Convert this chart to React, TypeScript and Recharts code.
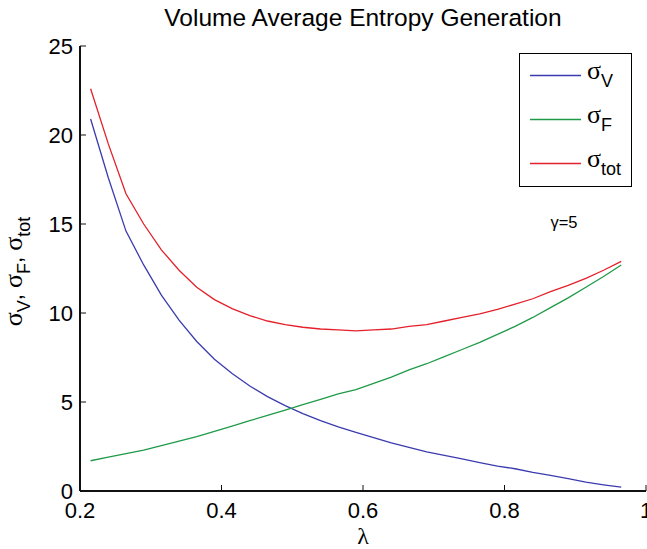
import React from 'react';
import { LineChart, Line, XAxis, YAxis, Legend, ReferenceDot } from 'recharts';

const lambda = [0.215, 0.24, 0.265, 0.29, 0.315, 0.34, 0.365, 0.39, 0.415, 0.44, 0.465, 0.49, 0.515, 0.54, 0.565, 0.59, 0.615, 0.64, 0.665, 0.69, 0.715, 0.74, 0.765, 0.79, 0.815, 0.84, 0.865, 0.89, 0.915, 0.94, 0.965];
const sigmaV = [20.9, 17.6, 14.6, 12.7, 11.0, 9.6, 8.4, 7.4, 6.6, 5.9, 5.3, 4.8, 4.35, 3.95, 3.6, 3.3, 3.0, 2.7, 2.45, 2.2, 2.0, 1.8, 1.6, 1.4, 1.25, 1.05, 0.88, 0.7, 0.5, 0.35, 0.22];
const sigmaF = [1.7, 1.9, 2.1, 2.3, 2.55, 2.8, 3.05, 3.35, 3.65, 3.95, 4.25, 4.55, 4.85, 5.15, 5.45, 5.7, 6.05, 6.4, 6.8, 7.15, 7.55, 7.95, 8.35, 8.8, 9.25, 9.75, 10.3, 10.85, 11.45, 12.05, 12.7];
const sigmaTot = [22.6, 19.5, 16.7, 15.0, 13.55, 12.4, 11.45, 10.75, 10.25, 9.85, 9.55, 9.35, 9.2, 9.1, 9.05, 9.0, 9.05, 9.1, 9.25, 9.35, 9.55, 9.75, 9.95, 10.2, 10.5, 10.8, 11.2, 11.55, 11.95, 12.4, 12.9];

const xTicks = [0.2, 0.4, 0.6, 0.8, 1];
const yTicks = [0, 5, 10, 15, 20, 25];

const seriesInfo = [
  { key: 'v', sub: 'V', color: '#3b3bb0' },
  { key: 'f', sub: 'F', color: '#1f9a48' },
  { key: 'tot', sub: 'tot', color: '#e4202a' },
];

const data = lambda.map((x, i) => ({ x, v: sigmaV[i], f: sigmaF[i], tot: sigmaTot[i] }));

const SANS = 'Liberation Sans, Arial, Helvetica, sans-serif';
const SERIF = 'Liberation Serif, Times New Roman, serif';

const YLabel = (props: any) => {
  const vb = props.viewBox || { x: 0, y: 46, width: 80, height: 445 };
  const cx = vb.x + 22;
  const cy = vb.y + vb.height / 2 + 3;
  return (
    <text transform={`translate(${cx},${cy}) rotate(-90)`} textAnchor="middle" fill="#000" fontSize={26} fontFamily={SERIF}>
      <tspan>σ</tspan>
      <tspan fontFamily={SANS} fontSize={18} dy={8}>V</tspan>
      <tspan fontFamily={SANS} fontSize={22} dy={-8}>, </tspan>
      <tspan>σ</tspan>
      <tspan fontFamily={SANS} fontSize={18} dy={8}>F</tspan>
      <tspan fontFamily={SANS} fontSize={22} dy={-8}>, </tspan>
      <tspan>σ</tspan>
      <tspan fontFamily={SANS} fontSize={18} dy={8}>tot</tspan>
    </text>
  );
};

const LegendBox = () => (
  <div style={{ position: 'relative', width: 113, height: 134, border: '1.5px solid #000', boxSizing: 'border-box', background: '#fff' }}>
    <svg width={110} height={131} style={{ position: 'absolute', left: 0, top: 0 }}>
      {seriesInfo.map((s, i) => (
        <line key={s.key} x1={10} x2={61} y1={21.5 + i * 44} y2={21.5 + i * 44} stroke={s.color} strokeWidth={1.3} />
      ))}
    </svg>
    {seriesInfo.map((s, i) => {
      const cy = 21 + i * 44;
      return (
        <div key={s.key} style={{ position: 'absolute', left: 67, top: cy - 17, whiteSpace: 'nowrap', lineHeight: '26px' }}>
          <span style={{ fontFamily: SERIF, fontSize: 26 }}>σ</span>
          <span style={{ fontFamily: SANS, fontSize: 18, position: 'relative', top: 8 }}>{s.sub}</span>
        </div>
      );
    })}
  </div>
);

export default function App() {
  return (
    <div style={{ position: 'absolute', left: 0, top: 0, width: 647, height: 549, background: '#fff', overflow: 'hidden' }}>
      <div style={{ position: 'absolute', left: 0, top: 5, width: 647, textAlign: 'center', fontFamily: SANS, fontSize: 24.5, lineHeight: '25px', paddingLeft: 80, boxSizing: 'border-box', paddingRight: 1, color: '#000', zIndex: 2 }}>
        Volume Average Entropy Generation
      </div>
      <LineChart width={647} height={549} data={data} margin={{ top: 46, right: 1, bottom: 0, left: 0 }} style={{ fontFamily: SANS }}>
        <XAxis
          dataKey="x"
          type="number"
          domain={[0.2, 1]}
          ticks={xTicks}
          interval={0}
          tickFormatter={(v: number) => String(v)}
          height={58}
          tickSize={-6}
          tickMargin={17}
          allowDataOverflow
          axisLine={{ stroke: '#111', strokeWidth: 2 }}
          tickLine={{ stroke: '#111', strokeWidth: 1 }}
          tick={{ fill: '#000', fontSize: 22, fontFamily: SANS }}
          label={{ value: 'λ', position: 'insideBottom', offset: 5, fill: '#000', fontSize: 24, fontFamily: SERIF }}
        />
        <XAxis
          xAxisId="top"
          orientation="top"
          dataKey="x"
          type="number"
          domain={[0.2, 1]}
          ticks={xTicks}
          interval={0}
          height={0}
          tickSize={-6}
          allowDataOverflow
          tick={false}
          axisLine={{ stroke: '#111', strokeWidth: 2 }}
          tickLine={{ stroke: '#111', strokeWidth: 1 }}
        />
        <YAxis
          type="number"
          domain={[0, 25]}
          ticks={yTicks}
          interval={0}
          width={80}
          tickSize={-6}
          tickMargin={13}
          allowDataOverflow
          axisLine={{ stroke: '#111', strokeWidth: 2 }}
          tickLine={{ stroke: '#111', strokeWidth: 1 }}
          tick={{ fill: '#000', fontSize: 22, fontFamily: SANS }}
          label={(p: any) => <YLabel {...p} />}
        />
        <YAxis
          yAxisId="right"
          orientation="right"
          type="number"
          domain={[0, 25]}
          ticks={yTicks}
          interval={0}
          width={0}
          tickSize={-6}
          allowDataOverflow
          tick={false}
          axisLine={{ stroke: '#111', strokeWidth: 2 }}
          tickLine={{ stroke: '#111', strokeWidth: 1 }}
        />
        {seriesInfo.map((s) => (
          <Line key={s.key} dataKey={s.key} type="linear" stroke={s.color} strokeWidth={1.3} dot={false} isAnimationActive={false} />
        ))}
        <ReferenceDot
          x={0.884}
          y={15.1}
          r={0}
          fill="none"
          stroke="none"
          label={{ value: 'γ=5', position: 'center', fill: '#000', fontSize: 16.5, fontFamily: SANS }}
        />
        <Legend
          layout="vertical"
          align="center"
          verticalAlign="middle"
          wrapperStyle={{ left: 519, top: 53, width: 113, height: 134 }}
          content={() => <LegendBox />}
        />
      </LineChart>
    </div>
  );
}
